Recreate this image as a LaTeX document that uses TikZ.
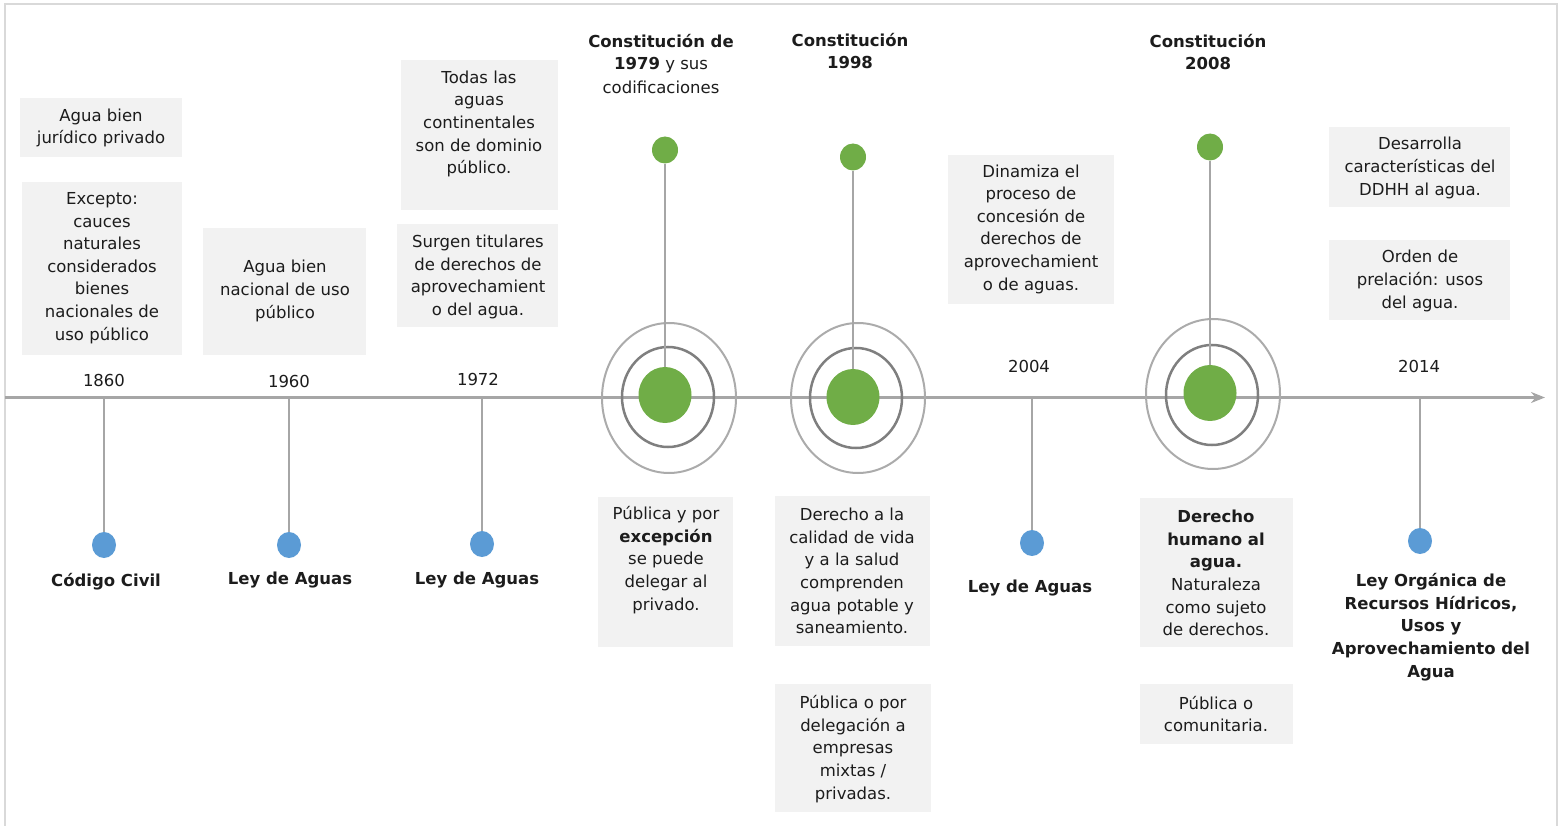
\documentclass[tikz,border=0pt]{standalone}
\usepackage{fontspec}
\setmainfont{DejaVu Sans}
\usetikzlibrary{arrows.meta,shapes.geometric,fit}
\definecolor{boxfill}{HTML}{F2F2F2}
\definecolor{axisgray}{HTML}{A6A6A6}
\definecolor{ringdark}{HTML}{7F7F7F}
\definecolor{ringlight}{HTML}{ABABAB}
\definecolor{framegray}{HTML}{D9D9D9}
\definecolor{evgreen}{HTML}{70AD47}
\definecolor{evblue}{HTML}{5B9BD5}
\definecolor{txt}{HTML}{1C1C1C}
\begin{document}
\begin{tikzpicture}[x=1pt,y=-1pt,
  every node/.style={font=\fontsize{16.5}{22.6}\selectfont, inner sep=0pt, text=txt},
  greybox/.style={fill=boxfill, draw=none, inner sep=0pt},
  boxtext/.style={align=center},
  yearlbl/.style={align=center},
  lawlbl/.style={align=center, font=\fontsize{16.5}{22.6}\selectfont\bfseries},
  headlbl/.style={align=center},
  stemline/.style={draw=axisgray, line width=2pt},
  bluedot/.style={ellipse, fill=evblue, minimum width=24pt, minimum height=26pt},
  smallgreen/.style={ellipse, fill=evgreen, minimum width=26pt, minimum height=27pt},
  biggreen/.style={ellipse, fill=evgreen, minimum width=53pt, minimum height=56pt},
  innerring/.style={ellipse, draw=ringdark, line width=2.5pt, minimum width=92pt, minimum height=100pt},
  outerring/.style={ellipse, draw=ringlight, line width=2pt, minimum width=134pt, minimum height=150pt}
]
\useasboundingbox (0,0) rectangle (1561,826);
% frame
\draw[framegray, line width=2pt] (5,830) -- (5,4) -- (1557,4) -- (1557,830);

% axis
\coordinate (axL) at (5,397.5);
\coordinate (axR) at (1545,397.5);
\draw[axisgray, line width=2.5pt, -{Stealth[length=14pt,width=11pt]}] (axL) -- (axR);

% ---------- grey boxes ----------
\node[greybox, fit={(20,98) (182,157)}] (b1) {};
\node[greybox, fit={(22,182) (182,355)}] (b2) {};
\node[greybox, fit={(203,228) (366,355)}] (b3) {};
\node[greybox, fit={(401,60) (558,210)}] (b4) {};
\node[greybox, fit={(397,224) (558,327)}] (b5) {};
\node[greybox, fit={(948,155) (1114,304)}] (b6) {};
\node[greybox, fit={(1329,127) (1510,207)}] (b7) {};
\node[greybox, fit={(1329,240) (1510,320)}] (b8) {};
\node[greybox, fit={(598,497) (733,647)}] (b9) {};
\node[greybox, fit={(775,496) (930,646)}] (b10) {};
\node[greybox, fit={(775,684) (931,812)}] (b11) {};
\node[greybox, fit={(1140,498) (1293,647)}] (b12) {};
\node[greybox, fit={(1140,684) (1293,744)}] (b13) {};

\node[boxtext] (t1) at (101,128) {Agua bien\\jurídico privado};
\node[boxtext] (t2) at (102,268) {Excepto:\\cauces\\naturales\\considerados\\bienes\\nacionales de\\uso público};
\node[boxtext] (t3) at (285,291) {Agua bien\\nacional de uso\\público};
\node[boxtext] (t4) at (479,124) {Todas las\\aguas\\continentales\\son de dominio\\público.};
\node[boxtext] (t5) at (478,277) {Surgen titulares\\de derechos de\\aprovechamient\\o del agua.};
\node[boxtext] (t6) at (1031,229) {Dinamiza el\\proceso de\\concesión de\\derechos de\\aprovechamient\\o de aguas.};
\node[boxtext] (t7) at (1420,168) {Desarrolla\\características del\\DDHH al agua.};
\node[boxtext] (t8) at (1420,281) {Orden de\\prelación: usos\\del agua.};
\node[boxtext] (t9) at (666,560) {Pública y por\\\textbf{excepción}\\se puede\\delegar al\\privado.};
\node[boxtext] (t10) at (852,571) {Derecho a la\\calidad de vida\\y a la salud\\comprenden\\agua potable y\\saneamiento.};
\node[boxtext] (t11) at (853,749) {Pública o por\\delegación a\\empresas\\mixtas /\\privadas.};
\node[boxtext] (t12) at (1216,573) {\textbf{Derecho}\\\textbf{humano al}\\\textbf{agua.}\\Naturaleza\\como sujeto\\de derechos.};
\node[boxtext] (t13) at (1216,714) {Pública o\\comunitaria.};

% ---------- headings ----------
\node[headlbl] (h79) at (661,64) {\textbf{Constitución de}\\\textbf{1979} y sus\\[1.5pt]codificaciones};
\node[headlbl, font=\fontsize{16.5}{22.6}\selectfont\bfseries] (h98) at (850,51) {Constitución\\1998};
\node[headlbl, font=\fontsize{16.5}{22.6}\selectfont\bfseries] (h08) at (1208,52) {Constitución\\2008};

% ---------- years ----------
\node[yearlbl] (y1860) at (104,380) {1860};
\node[yearlbl] (y1960) at (289,381) {1960};
\node[yearlbl] (y1972) at (478,379) {1972};
\node[yearlbl] (y2004) at (1029,366) {2004};
\node[yearlbl] (y2014) at (1419,366) {2014};

% ---------- blue events ----------
\node[bluedot] (d1860) at (104,545) {};
\node[bluedot] (d1960) at (289,545) {};
\node[bluedot] (d1972) at (482,544) {};
\node[bluedot] (d2004) at (1032,543) {};
\node[bluedot] (d2014) at (1420,541) {};
\coordinate (a1860) at (104,397.5);
\coordinate (a1960) at (289,397.5);
\coordinate (a1972) at (482,397.5);
\coordinate (a2004) at (1032,397.5);
\coordinate (a2014) at (1420,397.5);
\draw[stemline] (a1860) -- (d1860.north);
\draw[stemline] (a1960) -- (d1960.north);
\draw[stemline] (a1972) -- (d1972.north);
\draw[stemline] (a2004) -- (d2004.north);
\draw[stemline] (a2014) -- (d2014.north);

\node[lawlbl] (l1860) at (106,582) {Código Civil};
\node[lawlbl] (l1960) at (290,580) {Ley de Aguas};
\node[lawlbl] (l1972) at (477,580) {Ley de Aguas};
\node[lawlbl] (l2004) at (1030,588) {Ley de Aguas};
\node[lawlbl] (l2014) at (1431,627) {Ley Orgánica de\\Recursos Hídricos,\\Usos y\\Aprovechamiento del\\Agua};

% ---------- green events ----------
\node[outerring] (o79) at (669,398) {};
\node[innerring] (i79) at (668,397) {};
\node[outerring] (o98) at (858,398) {};
\node[innerring] (i98) at (856,398) {};
\node[outerring] (o08) at (1213,394) {};
\node[innerring] (i08) at (1212,395) {};

\node[smallgreen] (s79) at (665,150) {};
\node[smallgreen] (s98) at (853,157) {};
\node[smallgreen] (s08) at (1210,147) {};
\node[biggreen] (g79) at (665,395) {};
\node[biggreen] (g98) at (853,397) {};
\node[biggreen] (g08) at (1210,393) {};

\draw[stemline] (s79.south) -- (g79.north);
\draw[stemline] (s98.south) -- (g98.north);
\draw[stemline] (s08.south) -- (g08.north);
\end{tikzpicture}
\end{document}
